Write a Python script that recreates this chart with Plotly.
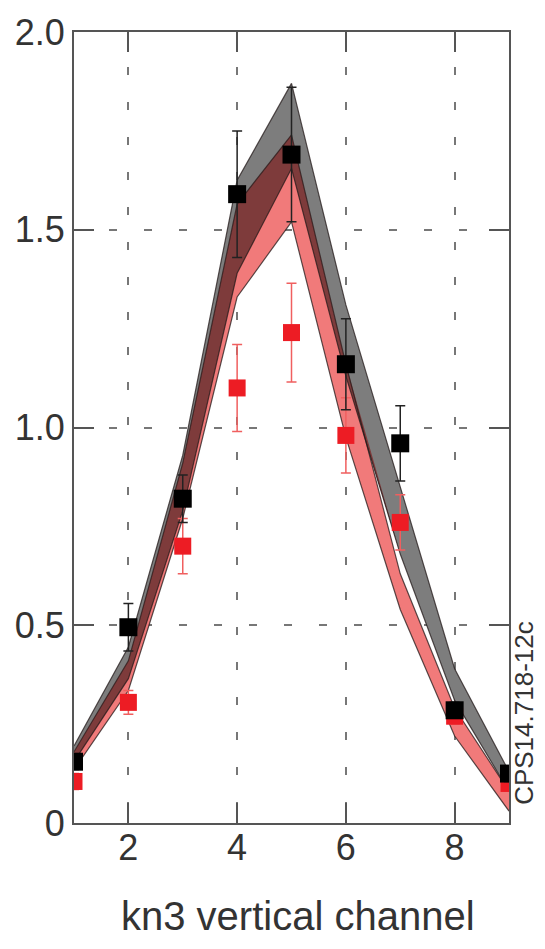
import plotly.graph_objects as go

# ---- data ----
channels = [1, 2, 3, 4, 5, 6, 7, 8, 9]

black_vals = [0.155, 0.495, 0.82, 1.59, 1.69, 1.16, 0.96, 0.285, 0.125]
black_err = [0.02, 0.06, 0.06, 0.16, 0.17, 0.115, 0.095, 0.02, 0.02]

red_vals = [0.105, 0.305, 0.70, 1.10, 1.24, 0.98, 0.76, 0.27, 0.10]
red_err = [0.02, 0.03, 0.07, 0.11, 0.125, 0.095, 0.07, 0.02, 0.02]

gray_lo = [0.155, 0.365, 0.79, 1.39, 1.655, 1.13, 0.68, 0.31, 0.08]
gray_hi = [0.195, 0.445, 0.93, 1.625, 1.87, 1.31, 0.85, 0.39, 0.13]
red_lo = [0.135, 0.335, 0.77, 1.33, 1.52, 0.975, 0.54, 0.22, 0.03]
red_hi = [0.18, 0.41, 0.91, 1.565, 1.74, 1.16, 0.63, 0.29, 0.08]

x_ticks = [2, 4, 6, 8]
y_ticks = [0, 0.5, 1.0, 1.5, 2.0]
y_ticktext = ["0", "0.5", "1.0", "1.5", "2.0"]

# overlap of the two bands
ov_lo = [max(a, b) for a, b in zip(gray_lo, red_lo)]
ov_hi = [max(min(a, b), lo) for a, b, lo in zip(gray_hi, red_hi, ov_lo)]

GRAY = "#7d7d7d"
LRED = "#f17a7a"
DRED = "#7e3b3b"
EDGE = "rgba(35,25,25,0.75)"
FONT = "Liberation Sans, Arial, sans-serif"


def band(lo, hi, color):
    return go.Scatter(
        x=channels + channels[::-1],
        y=hi + lo[::-1],
        fill="toself",
        fillcolor=color,
        mode="lines",
        line=dict(width=0),
        hoverinfo="skip",
        showlegend=False,
    )


def edge(vals):
    return go.Scatter(
        x=channels, y=vals, mode="lines",
        line=dict(color=EDGE, width=1.2),
        hoverinfo="skip", showlegend=False,
    )


fig = go.Figure()
fig.add_trace(band(gray_lo, gray_hi, GRAY))
fig.add_trace(band(red_lo, red_hi, LRED))
fig.add_trace(band(ov_lo, ov_hi, DRED))
for v in (gray_lo, gray_hi, red_lo, red_hi):
    fig.add_trace(edge(v))

fig.add_trace(go.Scatter(
    x=channels, y=red_vals, mode="markers",
    marker=dict(symbol="square", size=17, color="rgb(237,28,36)"),
    error_y=dict(type="data", array=red_err, color="rgb(240,95,95)",
                 thickness=1.5, width=5),
    showlegend=False,
))
fig.add_trace(go.Scatter(
    x=channels, y=black_vals, mode="markers",
    marker=dict(symbol="square", size=18, color="black"),
    error_y=dict(type="data", array=black_err, color="#222",
                 thickness=1.5, width=5),
    showlegend=False,
))

axis_common = dict(
    showline=True, linecolor="#555", linewidth=2, mirror="ticks",
    ticks="inside", ticklen=20, tickwidth=1.5, tickcolor="#555",
    showgrid=True, gridcolor="#777", gridwidth=1.5, griddash="8px,27px",
    zeroline=False,
    tickfont=dict(family=FONT, size=36, color="#333"),
)

fig.update_xaxes(range=[1, 9], tickvals=x_ticks, ticklabelstandoff=-8, **axis_common)
fig.update_yaxes(range=[0, 2], tickvals=y_ticks, ticktext=y_ticktext, **axis_common)

fig.add_annotation(
    text="kn3 vertical channel", xref="paper", yref="paper",
    x=0.515, y=-0.118, xanchor="center", yanchor="middle", showarrow=False,
    font=dict(family=FONT, size=40, color="#333"),
)
fig.add_annotation(
    text="CPS14.718-12c", xref="paper", yref="paper",
    x=1.034, y=0.139, xanchor="center", yanchor="middle", showarrow=False,
    textangle=-90, font=dict(family=FONT, size=26, color="#333"),
)

fig.update_layout(
    width=545, height=949,
    margin=dict(l=74, r=36, t=25, b=126),
    plot_bgcolor="white", paper_bgcolor="white",
    showlegend=False,
)

fig.write_html("out.html")
